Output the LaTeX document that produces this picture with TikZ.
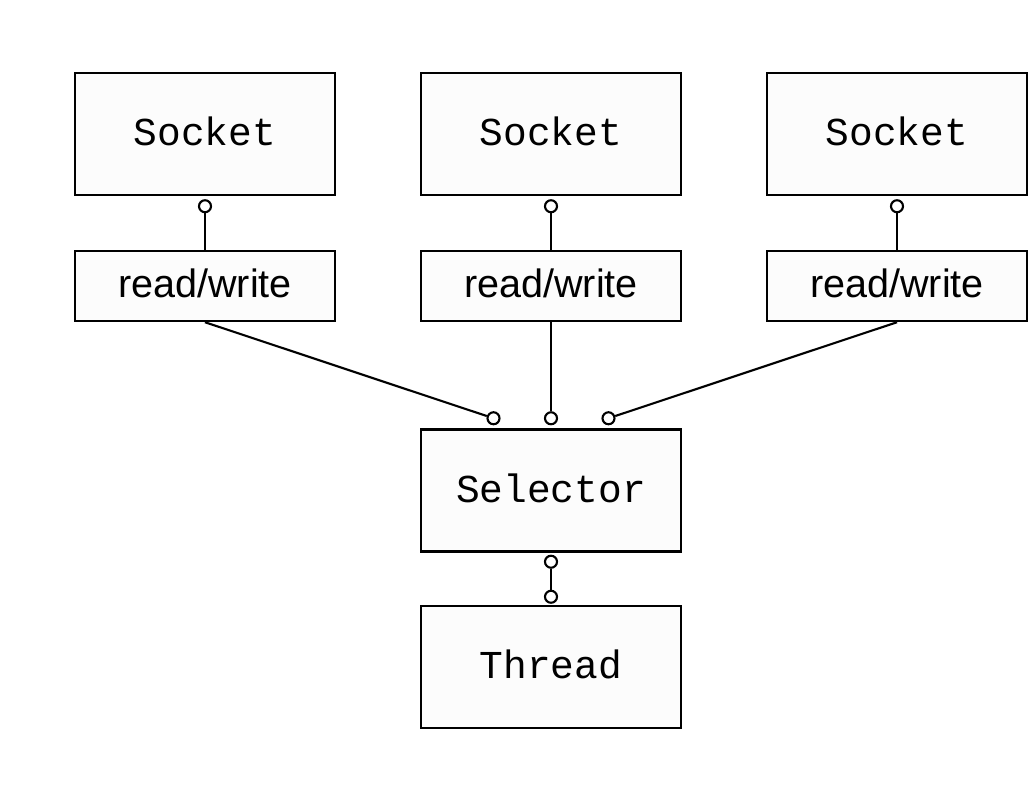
\documentclass[tikz,border=0pt]{standalone}
\usepackage{fontspec}
\setmainfont{Liberation Sans}
\setmonofont{Liberation Mono}
\usetikzlibrary{calc}
\begin{document}
\begin{tikzpicture}[
	box/.style={draw,line width=1.4pt,fill=black!1,minimum width=5.2cm,inner sep=0pt,text depth=0.1cm},
	bigbox/.style={box,minimum height=2.44cm,font=\ttfamily\fontsize{22.5}{26}\selectfont},
	rwbox/.style={box,minimum height=1.4cm,font=\fontsize{22.5}{26}\selectfont},
	dot/.style={circle,draw,line width=1.2pt,fill=white,minimum size=0.24cm,inner sep=0pt},
	link/.style={line width=1.2pt}]
		\useasboundingbox (0,0) rectangle (20.6,15.72);
		\node[bigbox] (s1) at (4.1,13.04) {Socket};
		\node[bigbox] (s2) at (11.02,13.04) {Socket};
		\node[bigbox] (s3) at (17.94,13.04) {Socket};
		\node[rwbox] (rw1) at (4.1,10) {read/write};
		\node[rwbox] (rw2) at (11.02,10) {read/write};
		\node[rwbox] (rw3) at (17.94,10) {read/write};
		\node[bigbox] (sel) at (11.02,5.91) {Selector};
		\node[bigbox] (thr) at (11.02,2.38) {Thread};
		\node[dot] (d1) at ($(s1.south)+(0,-0.2)$) {};
		\node[dot] (d2) at ($(s2.south)+(0,-0.2)$) {};
		\node[dot] (d3) at ($(s3.south)+(0,-0.2)$) {};
		\node[dot] (selL) at ($(sel.north)+(-1.15,0.2)$) {};
		\node[dot] (selM) at ($(sel.north)+(0,0.2)$) {};
		\node[dot] (selR) at ($(sel.north)+(1.15,0.2)$) {};
		\node[dot] (selB) at ($(sel.south)+(0,-0.18)$) {};
		\node[dot] (thrT) at ($(thr.north)+(0,0.16)$) {};
		\draw[link] (d1) -- (rw1.north);
		\draw[link] (d2) -- (rw2.north);
		\draw[link] (d3) -- (rw3.north);
		\draw[link] (rw1.south) -- (selL);
		\draw[link] (rw2.south) -- (selM);
		\draw[link] (rw3.south) -- (selR);
		\draw[link] (selB) -- (thrT);
	\end{tikzpicture}
\end{document}
